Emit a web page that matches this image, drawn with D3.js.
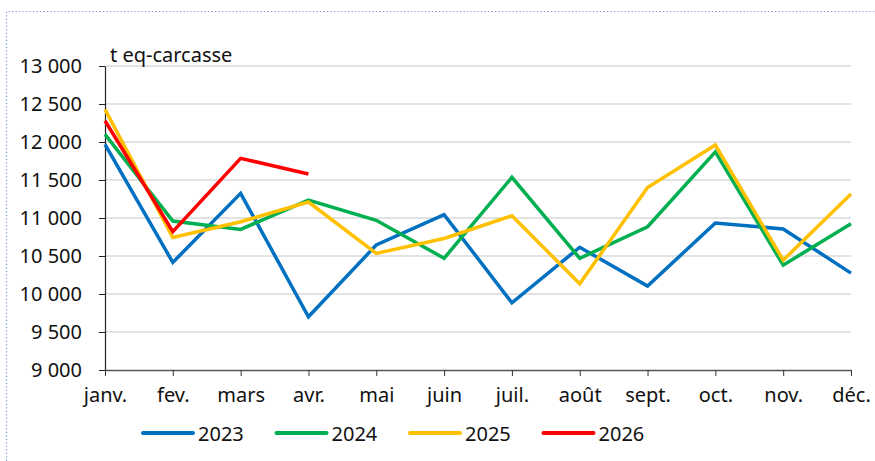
<!DOCTYPE html>
<html>
<head>
<meta charset="utf-8">
<script src="https://cdn.jsdelivr.net/npm/d3@7"></script>
<style>
  body { margin: 0; background: #fff; }
  svg { display: block; }
  text { font-family: "Noto Sans", "Open Sans", sans-serif; }
</style>
</head>
<body>
<svg id="chart" width="875" height="461"></svg>
<script>
var months = ['janv.', 'fev.', 'mars', 'avr.', 'mai', 'juin', 'juil.', 'août', 'sept.', 'oct.', 'nov.', 'déc.']
var yTicks = [9000, 9500, 10000, 10500, 11000, 11500, 12000, 12500, 13000]
var years = ['2023', '2024', '2025', '2026']
var colors = ['#0070c0', '#00b050', '#ffc000', '#ff0000']

var v2023 = [11970, 10415, 11325, 9700, 10645, 11045, 9885, 10615, 10105, 10935, 10855, 10275]
var v2024 = [12100, 10960, 10850, 11235, 10970, 10470, 11535, 10470, 10885, 11870, 10380, 10925]
var v2025 = [12430, 10745, 10950, 11210, 10535, 10730, 11030, 10135, 11400, 11960, 10445, 11315]
var v2026 = [12280, 10820, 11785, 11580]

var series = [v2023, v2024, v2025, v2026]

var svg = d3.select('#chart')

// dotted frame
svg.append('path')
  .attr('d', 'M6.5,461 L6.5,11.5 L875,11.5')
  .attr('fill', 'none')
  .attr('stroke', '#7d93dc')
  .attr('stroke-width', 1.2)
  .attr('stroke-dasharray', '1.2,2.3')

var x = d3.scalePoint()
  .domain(months)
  .range([105, 851])

var y = d3.scaleLinear()
  .domain([9000, 13000])
  .range([370, 66])

// gridlines
svg.append('g')
  .selectAll('line')
  .data(yTicks.slice(1))
  .enter().append('line')
  .attr('x1', 105).attr('x2', 851)
  .attr('y1', function(d){ return y(d) }).attr('y2', function(d){ return y(d) })
  .attr('stroke', '#d9d9d9')
  .attr('stroke-width', 1.5)

var fmt = function(d){ return d3.format(',')(d).replace(',', ' ') }

var yAxis = svg.append('g')
  .attr('transform', 'translate(105,0)')
  .call(d3.axisLeft(y).tickValues(yTicks).tickSize(6).tickSizeOuter(0).tickPadding(17).tickFormat(fmt))
yAxis.select('.domain').attr('stroke', '#222').attr('stroke-width', 1.2)
yAxis.selectAll('.tick line').attr('stroke', '#222')
yAxis.selectAll('.tick text').attr('font-size', 20).attr('fill', '#111')
  .attr('font-family', '"Noto Sans", sans-serif')

var xAxis = svg.append('g')
  .attr('transform', 'translate(0,370)')
  .call(d3.axisBottom(x).tickSize(6).tickSizeOuter(0).tickPadding(12))
xAxis.select('.domain').attr('stroke', '#555').attr('stroke-width', 1.5)
xAxis.selectAll('.tick line').attr('stroke', '#333')
xAxis.selectAll('.tick text').attr('font-size', 20).attr('fill', '#111')
  .attr('font-family', '"Noto Sans", sans-serif')

svg.append('text')
  .attr('x', 110).attr('y', 62)
  .attr('font-size', 20)
  .attr('fill', '#111')
  .text('t eq-carcasse')

var line = d3.line()
  .x(function(d, i){ return x(months[i]) })
  .y(function(d){ return y(d) })

svg.append('g')
  .selectAll('path')
  .data(series)
  .enter().append('path')
  .attr('d', line)
  .attr('fill', 'none')
  .attr('stroke', function(d, i){ return colors[i] })
  .attr('stroke-width', 3.5)
  .attr('stroke-linejoin', 'miter')

// legend
var legend = svg.append('g')
  .selectAll('g')
  .data(years)
  .enter().append('g')
  .attr('transform', function(d, i){ return 'translate(' + (143 + i * 133.5) + ',433)' })

legend.append('line')
  .attr('x1', 0).attr('x2', 50)
  .attr('stroke', function(d, i){ return colors[i] })
  .attr('stroke-width', 4)
  .attr('stroke-linecap', 'round')

legend.append('text')
  .attr('x', 55).attr('y', 8)
  .attr('font-size', 20)
  .attr('fill', '#111')
  .text(function(d){ return d })
</script>
</body>
</html>
